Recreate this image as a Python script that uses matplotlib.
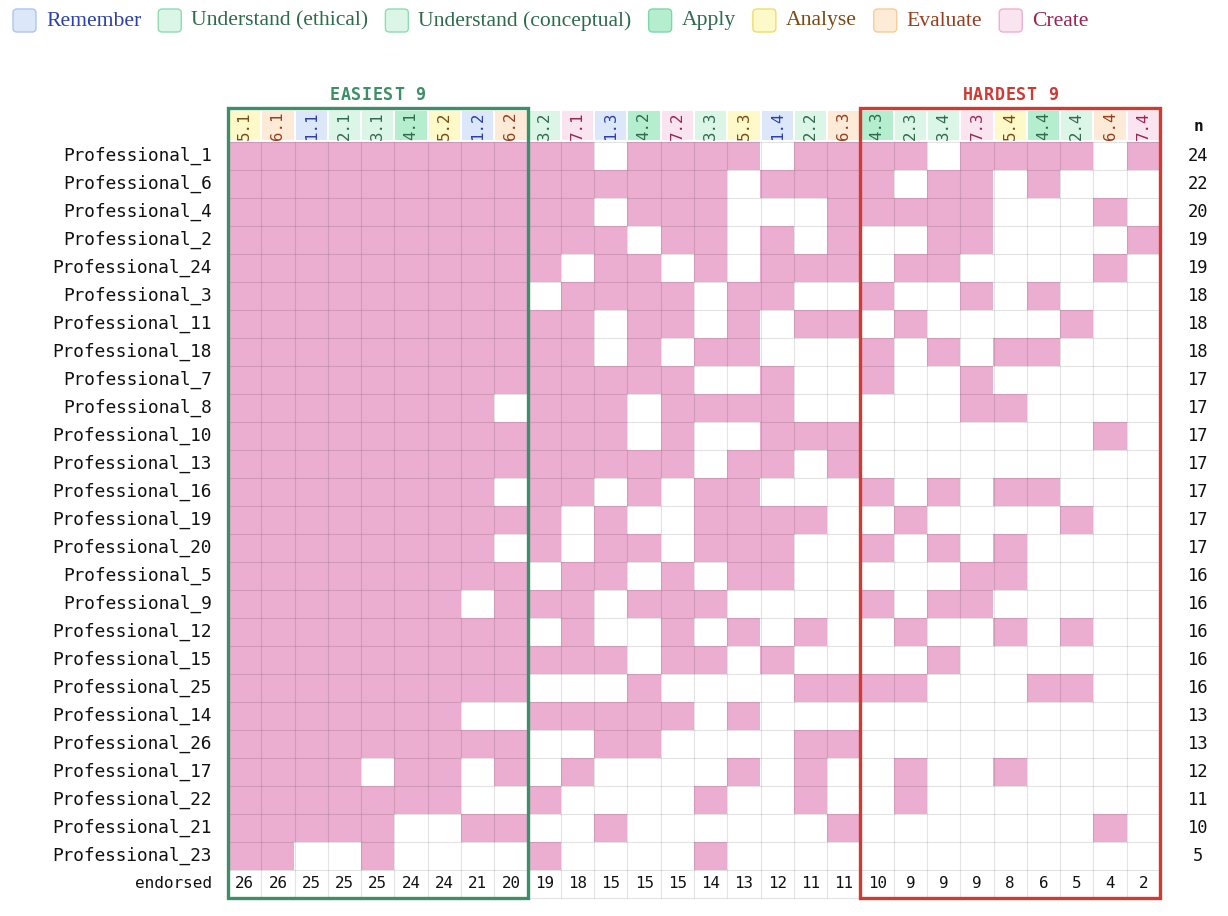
import numpy as np
import matplotlib
matplotlib.use("Agg")
from matplotlib import pyplot as plt
from matplotlib.colors import ListedColormap
from matplotlib.patches import Rectangle, FancyBboxPatch

# Bloom levels (legend order)
categorias = ['Remember', 'Understand (ethical)', 'Understand (conceptual)',
              'Apply', 'Analyse', 'Evaluate', 'Create']

# itens (colunas) em ordem de dificuldade
itens = ['5.1', '6.1', '1.1', '2.1', '3.1', '4.1', '5.2', '1.2', '6.2',
         '3.2', '7.1', '1.3', '4.2', '7.2', '3.3', '5.3', '1.4', '2.2', '6.3',
         '4.3', '2.3', '3.4', '7.3', '5.4', '4.4', '2.4', '6.4', '7.4']

profissionais = ['Professional_1', 'Professional_6', 'Professional_4', 'Professional_2',
                 'Professional_24', 'Professional_3', 'Professional_11', 'Professional_18',
                 'Professional_7', 'Professional_8', 'Professional_10', 'Professional_13',
                 'Professional_16', 'Professional_19', 'Professional_20', 'Professional_5',
                 'Professional_9', 'Professional_12', 'Professional_15', 'Professional_25',
                 'Professional_14', 'Professional_26', 'Professional_17', 'Professional_22',
                 'Professional_21', 'Professional_23']

# 1 = endossado (faceis | meio | dificeis)
respostas = [
    '111111111 1101111011 110111101',
    '111111111 1111110111 101101000',
    '111111111 1101110001 111100010',
    '111111111 1110110101 001100001',
    '111111111 1011010111 011000010',
    '111111111 0111101100 100101000',
    '111111111 1101101011 010000100',
    '111111111 1101011000 101011000',
    '111111111 1111100100 100100000',
    '111111110 1110111100 000110000',
    '111111111 1110100111 000000010',
    '111111111 1111101101 000000000',
    '111111110 1101011000 101011000',
    '111111111 1010011110 010000100',
    '111111110 1011011100 101010000',
    '111111111 0110101100 000110000',
    '111111101 1101110000 101100000',
    '111111111 0100101010 010010100',
    '111111111 1110110100 001000000',
    '111111111 0001000011 110001100',
    '111111100 1111101000 000000000',
    '111111111 0011000011 000000000',
    '111101101 0100001010 010010000',
    '111111100 1000010010 010000000',
    '111110011 0010000001 000000010',
    '110010000 1000010000 000000000',
]

n_faceis = 9
n_dificeis = 9

# cores
rosa = '#ebadd0'
fundo_cat = ['#dce8fa', '#dbf6e6', '#dbf6e6', '#b5eecf', '#fdf9c8', '#fdebd8', '#f9e4f0']
borda_cat = ['#a9c6f2', '#8edcb0', '#8edcb0', '#7fd6a9', '#f0dc6c', '#f5cd98', '#eeb0d0']
texto_cat = ['#2b3fae', '#2e6b4c', '#2e6b4c', '#2e6b4c', '#7a4a14', '#9a3c1c', '#9c2452']
verde = '#3d8f68'
vermelho = '#cf3a33'

M = np.array([[int(c) for c in r.replace(' ', '')] for r in respostas])
n_lin, n_col = M.shape
endossado = M.sum(axis=0)
n_por_prof = M.sum(axis=1)

W, H = 1228, 916
fig = plt.figure(figsize=(W / 100, H / 100), dpi=100)

# eixo principal: uma unidade = uma celula
x0, x1 = 228, 1160
y_top, y_bot = -1.3, 27.1
cel_h = 28
py_top = 142 + y_top * cel_h
py_bot = 142 + y_bot * cel_h
ax = fig.add_axes([x0 / W, 1 - py_bot / H, (x1 - x0) / W, (py_bot - py_top) / H])
ax.set_xlim(0, n_col)
ax.set_ylim(y_bot, y_top)
ax.axis('off')
cel_w = (x1 - x0) / n_col  # px

ax.imshow(M, cmap=ListedColormap(['white', rosa]), vmin=0, vmax=1,
          extent=[0, n_col, n_lin, 0], aspect='auto', interpolation='nearest')

# grade
ax.vlines(np.arange(n_col + 1), 0, n_lin + 1, color=(0, 0, 0, 0.11), lw=0.8)
ax.hlines(np.arange(n_lin + 2), 0, n_col, color=(0, 0, 0, 0.11), lw=0.8)

# cabecalho das colunas
for j, it in enumerate(itens):
    c = int(it.split('.')[0]) - 1
    ax.add_patch(Rectangle((j + 0.03, -1.12), 0.94, 1.04, facecolor=fundo_cat[c],
                           edgecolor='none'))
    ax.text(j + 0.5, -0.58, it, rotation=90, ha='center', va='center',
            family='DejaVu Sans Mono', fontsize=11.3, color=texto_cat[c])

# nomes e n
for i, p in enumerate(profissionais):
    ax.text(-0.48, i + 0.5, p, ha='right', va='center',
            family='DejaVu Sans Mono', fontsize=12.8, color='#111111')
    ax.text(29.15, i + 0.5, str(n_por_prof[i]), ha='center', va='center',
            family='DejaVu Sans Mono', fontsize=12.3, color='#111111')
ax.text(29.15, -0.55, 'n', ha='center', va='center', family='DejaVu Sans Mono',
        fontsize=11.5, fontweight='bold', color='#111111')

# linha endorsed
ax.text(-0.48, n_lin + 0.5, 'endorsed', ha='right', va='center',
        family='DejaVu Sans Mono', fontsize=11.5, color='#111111')
for j, e in enumerate(endossado):
    ax.text(j + 0.5, n_lin + 0.5, str(e), ha='center', va='center',
            family='DejaVu Sans Mono', fontsize=11.4, color='#111111')

# caixas faceis / dificeis
caixas = [(0, n_faceis, verde, 'EASIEST 9'),
          (n_col - n_dificeis, n_col, vermelho, 'HARDEST 9')]
passo = 10.7 / cel_w  # espacamento entre letras
for a, b, cor, rot in caixas:
    ax.add_patch(Rectangle((a, -1.2), b - a, n_lin + 1 + 1.2, facecolor='none',
                           edgecolor=cor, lw=2.4, clip_on=False, zorder=5))
    xc = (a + b) / 2 - passo * (len(rot) - 1) / 2
    for k, ch in enumerate(rot):
        ax.text(xc + k * passo, -1.68, ch, ha='center', va='center', color=cor,
                family='DejaVu Sans Mono', fontsize=12, fontweight='bold')

# legenda
lax = fig.add_axes([0, 1 - 42 / H, 1, 42 / H])
lax.set_xlim(0, W)
lax.set_ylim(42, 0)
lax.axis('off')
fig.canvas.draw()
r = fig.canvas.get_renderer()
x = 13
for k, nome in enumerate(categorias):
    lax.add_patch(FancyBboxPatch((x, 9), 23, 23, boxstyle='round,pad=0,rounding_size=4',
                                 facecolor=fundo_cat[k], edgecolor=borda_cat[k], lw=1))
    t = lax.text(x + 33, 21, nome, ha='left', va='center', family='Liberation Serif',
                 fontsize=15.6, color=texto_cat[k])
    bb = t.get_window_extent(renderer=r)
    x = x + 33 + bb.width + 17

fig.savefig('out.png', dpi=100)
